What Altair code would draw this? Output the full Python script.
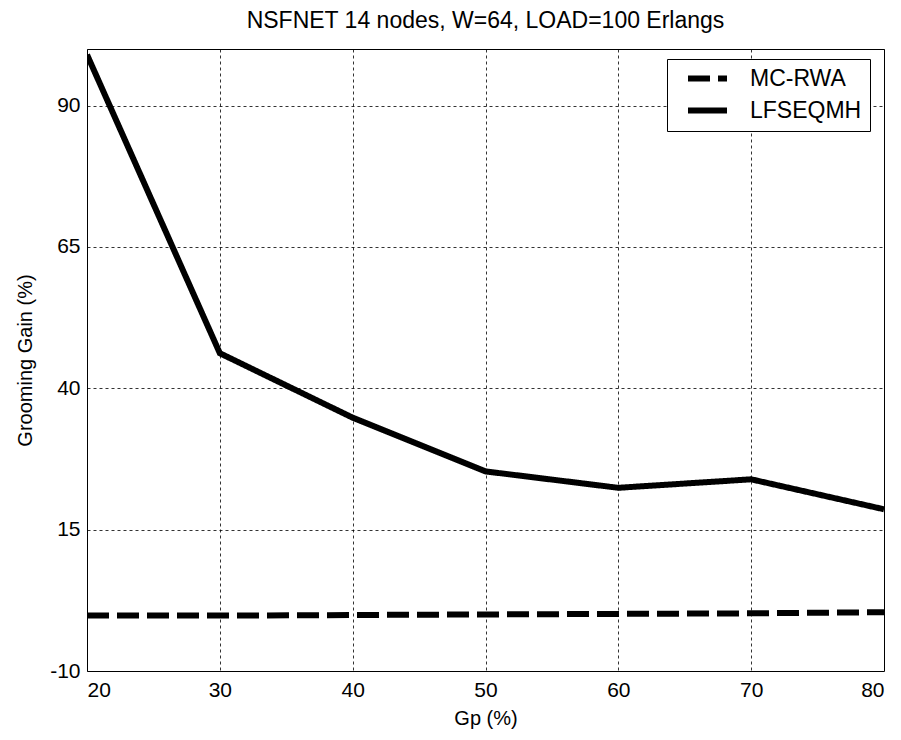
import altair as alt
import pandas as pd

gp = [20, 30, 40, 50, 60, 70, 80]
lfseqmh = [99.0, 46.2, 34.8, 25.3, 22.4, 23.9, 18.6]
mc_rwa = [-0.2, -0.2, -0.1, 0.0, 0.1, 0.2, 0.4]
series = ["MC-RWA", "LFSEQMH"]
y_ticks = [-10, 15, 40, 65, 90]
x_ticks = [20, 30, 40, 50, 60, 70, 80]

rows = []
for x, v in zip(gp, mc_rwa):
    rows.append({"Gp": x, "Gain": v, "Method": "MC-RWA"})
for x, v in zip(gp, lfseqmh):
    rows.append({"Gp": x, "Gain": v, "Method": "LFSEQMH"})
df = pd.DataFrame(rows)

FONT = "Liberation Sans"

chart = alt.Chart(df).mark_line(color="black", strokeWidth=6, clip=True).encode(
    x=alt.X("Gp:Q", scale=alt.Scale(domain=[20, 80], nice=False),
            axis=alt.Axis(values=x_ticks, title="Gp (%)", format="d")),
    y=alt.Y("Gain:Q", scale=alt.Scale(domain=[-10, 100], nice=False),
            axis=alt.Axis(values=y_ticks, title="Grooming Gain (%)", format="d",
                          labelExpr="replace(datum.label, '\u2212', '-')")),
    strokeDash=alt.StrokeDash(
        "Method:N",
        scale=alt.Scale(domain=series, range=[[22, 8], [1, 0]]),
        legend=alt.Legend(
            title=None, orient="none", legendX=580, legendY=10,
            symbolType="M-3,0H3", symbolSize=169, symbolStrokeWidth=6,
            symbolOffset=21,
            symbolStrokeColor="black", labelFontSize=23, labelFont=FONT,
            labelColor="black", strokeColor="black", fillColor="white",
            padding=8, rowPadding=7, labelOffset=31,
        ),
    ),
    detail="Method:N",
).properties(
    width=797,
    height=622,
    title=alt.Title("NSFNET 14 nodes, W=64, LOAD=100 Erlangs", fontSize=23,
                    font=FONT, fontWeight="normal", color="black", offset=16),
    autosize=alt.AutoSizeParams(type="none"),
    padding={"left": 79, "top": 41, "right": 9, "bottom": 60},
).configure(
    background="white"
).configure_view(
    stroke="black", strokeWidth=1
).configure_axis(
    grid=True, gridColor="black", gridDash=[3, 3], gridWidth=1, gridOpacity=0.8,
    domain=False, ticks=False,
    labelFont=FONT, labelFontSize=21, labelColor="black",
    titleFont=FONT, titleFontSize=20, titleColor="black", titleFontWeight="normal",
).configure_axisX(
    labelPadding=8, titlePadding=8
).configure_axisY(
    labelPadding=7, titlePadding=14
)

chart.save("out.html", embed_options={"renderer": "svg", "actions": False})
